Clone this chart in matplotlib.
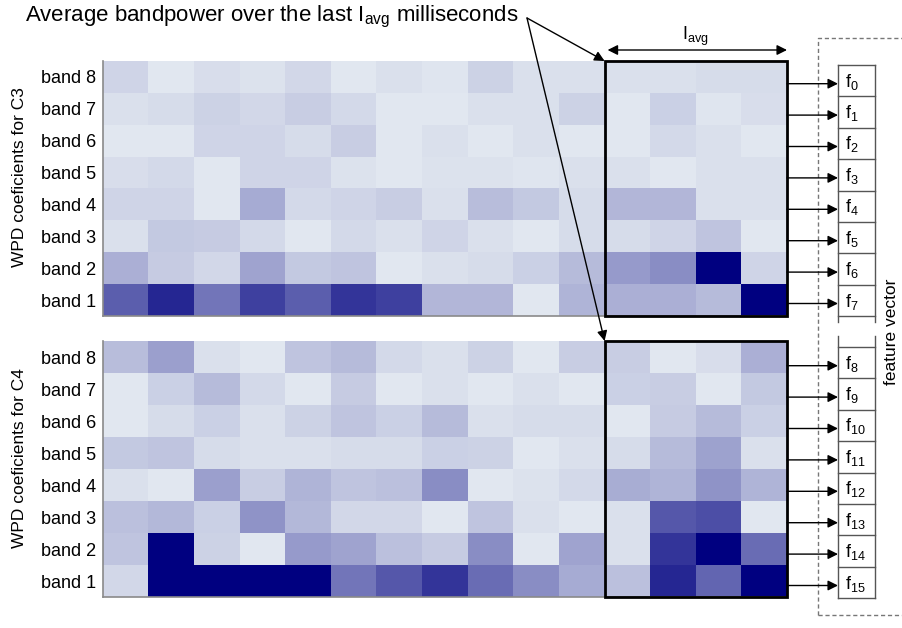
"""WPD bandpower heatmaps for C3 / C4 and how the last I_avg columns feed the feature vector."""

import matplotlib
matplotlib.use("Agg")
import matplotlib.pyplot as plt
from matplotlib.colors import LinearSegmentedColormap
from matplotlib.patches import Rectangle

plt.rcParams["font.family"] = ["Liberation Sans", "DejaVu Sans"]
plt.rcParams["mathtext.fontset"] = "custom"
plt.rcParams["mathtext.rm"] = "Liberation Sans"
plt.rcParams["mathtext.it"] = "Liberation Sans:italic"

# rows top -> bottom: band 8 ... band 1, 15 time windows each (0 = low, 1 = max power)
band_labels = ["band 8", "band 7", "band 6", "band 5", "band 4", "band 3", "band 2", "band 1"]

c3_values = [
    [0.08, 0.00, 0.04, 0.02, 0.07, 0.00, 0.03, 0.01, 0.09, 0.03, 0.03, 0.03, 0.03, 0.05, 0.05],
    [0.03, 0.05, 0.09, 0.07, 0.11, 0.06, 0.00, 0.00, 0.03, 0.03, 0.09, 0.00, 0.10, 0.01, 0.04],
    [0.00, 0.00, 0.08, 0.08, 0.05, 0.11, 0.00, 0.03, 0.00, 0.03, 0.00, 0.00, 0.06, 0.03, 0.00],
    [0.04, 0.06, 0.00, 0.08, 0.08, 0.02, 0.00, 0.02, 0.02, 0.01, 0.03, 0.03, 0.00, 0.03, 0.03],
    [0.08, 0.08, 0.00, 0.26, 0.06, 0.08, 0.11, 0.03, 0.18, 0.13, 0.05, 0.21, 0.21, 0.03, 0.03],
    [0.03, 0.13, 0.12, 0.06, 0.00, 0.06, 0.03, 0.08, 0.03, 0.00, 0.05, 0.05, 0.08, 0.15, 0.00],
    [0.24, 0.12, 0.07, 0.29, 0.13, 0.15, 0.00, 0.03, 0.05, 0.10, 0.19, 0.33, 0.39, 1.00, 0.08],
    [0.59, 0.83, 0.49, 0.72, 0.59, 0.77, 0.72, 0.21, 0.21, 0.00, 0.22, 0.24, 0.24, 0.19, 1.00],
]

c4_values = [
    [0.18, 0.31, 0.03, 0.00, 0.15, 0.19, 0.06, 0.03, 0.09, 0.00, 0.11, 0.11, 0.00, 0.04, 0.24],
    [0.00, 0.10, 0.19, 0.06, 0.00, 0.12, 0.00, 0.03, 0.00, 0.03, 0.00, 0.10, 0.11, 0.00, 0.13],
    [0.00, 0.05, 0.10, 0.03, 0.09, 0.15, 0.10, 0.19, 0.03, 0.05, 0.05, 0.00, 0.12, 0.19, 0.10],
    [0.13, 0.15, 0.05, 0.03, 0.03, 0.05, 0.05, 0.10, 0.09, 0.00, 0.03, 0.05, 0.19, 0.30, 0.03],
    [0.03, 0.00, 0.31, 0.11, 0.22, 0.15, 0.17, 0.39, 0.00, 0.02, 0.06, 0.25, 0.22, 0.36, 0.22],
    [0.17, 0.20, 0.10, 0.36, 0.20, 0.07, 0.07, 0.00, 0.15, 0.03, 0.00, 0.03, 0.62, 0.66, 0.00],
    [0.15, 1.00, 0.09, 0.00, 0.33, 0.29, 0.17, 0.12, 0.39, 0.00, 0.29, 0.03, 0.77, 1.00, 0.53],
    [0.07, 1.00, 1.00, 1.00, 1.00, 0.49, 0.62, 0.77, 0.53, 0.39, 0.26, 0.17, 0.83, 0.56, 1.00],
]

channels = ["C3", "C4"]
n_avg = 4  # columns averaged into the feature vector

# layout in pixels (figure is 903 x 628)
W, H = 903, 628
HM_LEFT, HM_RIGHT = 103, 787
HM_ROWS = [(61, 316), (341, 597)]
FV_LEFT, FV_RIGHT = 838, 875
FV_TOPS = [65, 347]
FV_CELL = 31.4

cmap = LinearSegmentedColormap.from_list("wpd", ["#e1e7f0", "#000080"])

fig = plt.figure(figsize=(W / 100, H / 100), dpi=100)

for (top, bottom), values, ch in zip(HM_ROWS, [c3_values, c4_values], channels):
    ax = fig.add_axes([HM_LEFT / W, 1 - bottom / H, (HM_RIGHT - HM_LEFT) / W, (bottom - top) / H])
    ax.imshow(values, cmap=cmap, vmin=0, vmax=1, aspect="auto", interpolation="nearest")
    ax.set_yticks(range(len(band_labels)))
    ax.set_yticklabels(band_labels, fontsize=13)
    ax.set_xticks([])
    ax.tick_params(axis="y", length=0, pad=5)
    for side in ["top", "right"]:
        ax.spines[side].set_visible(False)
    for side in ["left", "bottom"]:
        ax.spines[side].set_color("#8a8a8a")
        ax.spines[side].set_linewidth(1.2)
    ncol = len(values[0])
    ax.add_patch(Rectangle((ncol - n_avg - 0.5, -0.5), n_avg, len(values),
                           fill=False, lw=2, ec="black", clip_on=False, zorder=4))
    fig.text(20 / W, 1 - ((top + bottom) / 2 - 11) / H, f"WPD coeficients for {ch}",
             rotation=90, ha="center", va="center", fontsize=12.5)

# overlay in pixel coordinates for the annotation work
ov = fig.add_axes([0, 0, 1, 1], zorder=5)
ov.set_xlim(0, W)
ov.set_ylim(H, 0)
ov.axis("off")
ov.patch.set_alpha(0)

arrow = dict(arrowstyle="-|>", color="black", lw=1, mutation_scale=15, shrinkA=0, shrinkB=0)

ov.text(25, 17, r"Average bandpower over the last I$_{\mathrm{avg}}$ milliseconds",
        fontsize=16, ha="left", va="center")
box_left = HM_LEFT + (HM_RIGHT - HM_LEFT) * (15 - n_avg) / 15
for top, _ in HM_ROWS:
    ov.annotate("", xy=(box_left, top), xytext=(527, 18), arrowprops=arrow)

# I_avg span
ov.annotate("", xy=(box_left + 3, 50), xytext=(HM_RIGHT, 50),
            arrowprops=dict(arrowstyle="<|-|>", color="black", lw=1, mutation_scale=15,
                            shrinkA=0, shrinkB=0))
ov.text((box_left + HM_RIGHT) / 2, 36, r"I$_{\mathrm{avg}}$", fontsize=13, ha="center", va="center")

# feature vector column
k = 0
n = len(band_labels)
for j, fv_top in enumerate(FV_TOPS):
    if j == 0:
        side_top, side_bot = fv_top, fv_top + n * FV_CELL + 6
    else:
        side_top, side_bot = fv_top - 11, fv_top + n * FV_CELL
    for x in (FV_LEFT, FV_RIGHT):
        ov.plot([x, x], [side_top, side_bot], color="#555555", lw=1)
    for i in range(n + 1):
        y = fv_top + i * FV_CELL
        ov.plot([FV_LEFT, FV_RIGHT], [y, y], color="#555555", lw=1)
    for i in range(n):
        yc = fv_top + (i + 0.5) * FV_CELL
        ov.annotate("", xy=(FV_LEFT, yc + 3), xytext=(HM_RIGHT, yc + 3), arrowprops=arrow)
        ov.text(FV_LEFT + 7, yc + 1, "f$_{%d}$" % k, fontsize=13, ha="left", va="center")
        k += 1

# dashed frame around the feature vector
ov.plot([818, 818, W + 5], [615, 38, 38], color="#777777", lw=1, ls=(0, (3, 2)))
ov.plot([818, W + 5], [615, 615], color="#777777", lw=1, ls=(0, (3, 2)))
ov.text(892, 332, "feature vector", rotation=90, fontsize=12.5, ha="center", va="center")

fig.savefig("out.png", dpi=100)
